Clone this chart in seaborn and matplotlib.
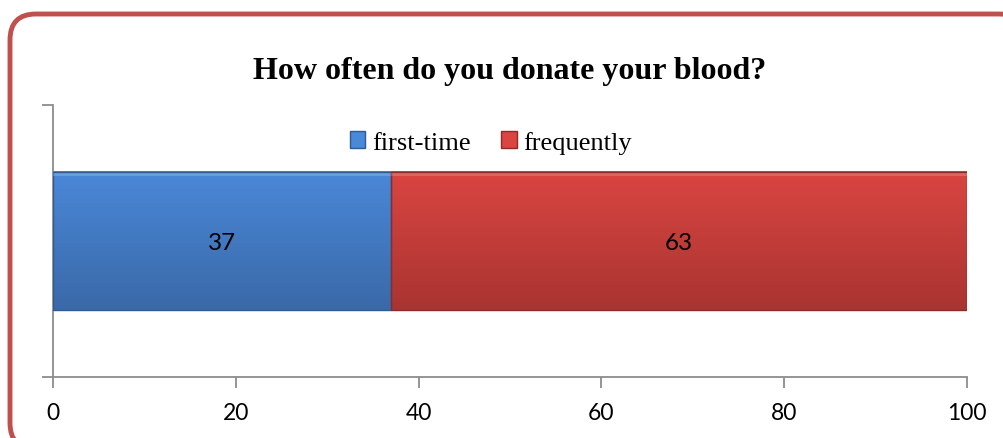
import numpy as np
import pandas as pd
import matplotlib
matplotlib.use("Agg")
import matplotlib.pyplot as plt
import seaborn as sns
from matplotlib.patches import FancyBboxPatch, Patch
from matplotlib.colors import LinearSegmentedColormap

# Survey answers (percent of respondents)
groups = ["first-time", "frequently"]
values = [37, 63]
xticks = [0, 20, 40, 60, 80, 100]
title = "How often do you donate your blood?"

# colour ramps: light top -> darker bottom
top_colors = ["#4A88D8", "#DA4541"]
bottom_colors = ["#3A69A8", "#A93431"]
edge_colors = ["#2F5A93", "#8E2A27"]

sns.set_theme(style="white")
plt.rcParams["font.family"] = ["Lato", "DejaVu Sans"]
plt.rcParams["text.color"] = "black"
plt.rcParams["xtick.color"] = "black"

fig = plt.figure(figsize=(10.04, 4.39), dpi=100)
ax = fig.add_axes([53 / 1004, 1 - 378 / 439, (967 - 53) / 1004, (378 - 106) / 439])

# stacked bar: draw cumulative totals back to front
cum = np.cumsum(values)
df = pd.DataFrame({"row": ["all"] * len(groups), "group": groups, "end": cum})
for i in reversed(range(len(groups))):
    sub = df.iloc[[i]]
    sns.barplot(data=sub, x="end", y="row", orient="h", color=top_colors[i],
                width=0.51, ax=ax, saturation=1, linewidth=0)

ax.set_xlim(0, 100)

# gradient fill + bevel edge on each segment
starts = np.concatenate([[0], cum[:-1]])
y0, y1 = -0.255, 0.255
for i in range(len(groups)):
    cmap = LinearSegmentedColormap.from_list("g", [top_colors[i], bottom_colors[i]])
    grad = np.linspace(0, 1, 256).reshape(-1, 1)
    ax.imshow(grad, extent=(starts[i], cum[i], y1, y0), aspect="auto",
              cmap=cmap, zorder=3, interpolation="bicubic")
    ax.add_patch(plt.Rectangle((starts[i], y0), values[i], y1 - y0, fill=False,
                               edgecolor=edge_colors[i], linewidth=1.0, zorder=4))
    # soft highlight along the top
    ax.add_patch(plt.Rectangle((starts[i], y0 + 0.004), values[i], 0.012,
                               facecolor="white", alpha=0.18, linewidth=0, zorder=4))
    ax.text(starts[i] + values[i] / 2, 0.005, str(values[i]), ha="center", va="center",
            fontsize=17.5, color="black", zorder=5)
ax.set_ylim(0.5, -0.5)

# axes styling
for s in ["top", "right"]:
    ax.spines[s].set_visible(False)
for s in ["left", "bottom"]:
    ax.spines[s].set_color("#8C8C8C")
    ax.spines[s].set_linewidth(1.3)
ax.set_xticks(xticks)
ax.set_xticklabels([str(t) for t in xticks], fontsize=16.5)
ax.set_yticks([-0.5, 0.5])
ax.set_yticklabels(["", ""])
ax.tick_params(axis="both", which="both", direction="out", length=8, width=1.3,
               color="#8C8C8C", pad=10, left=True, bottom=True, labelcolor="black")
ax.set_xlabel("")
ax.set_ylabel("")
ax.grid(False)

handles = [Patch(facecolor=top_colors[i], edgecolor=edge_colors[i], label=groups[i])
           for i in range(len(groups))]
ax.legend(handles=handles, loc="center", bbox_to_anchor=(0.479, 0.862), ncol=2,
          frameon=False, handlelength=0.6, handleheight=0.6, handletextpad=0.25,
          columnspacing=1.15, prop={"family": "Liberation Serif", "size": 19})

fig.text(0.508, 1 - 72 / 439, title, ha="center", va="center", color="black",
         fontsize=23, fontweight="bold", family="Liberation Serif")

# rounded outer frame (runs past the right and bottom edges of the canvas);
# filled white and kept behind the axes
frame = FancyBboxPatch((0.10, -0.11), 10.15, 4.35,
                       boxstyle="round,pad=0,rounding_size=0.26",
                       transform=fig.dpi_scale_trans, facecolor="white",
                       edgecolor="#C0504D", linewidth=3.5, clip_on=False, zorder=-5)
fig.patches.append(frame)

fig.savefig("out.png", dpi=100)
